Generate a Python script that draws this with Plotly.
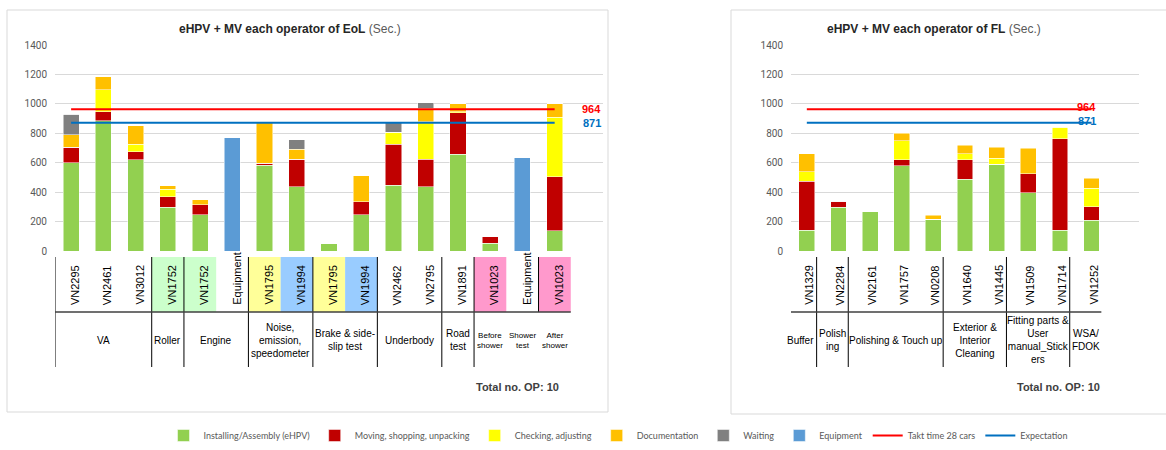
import plotly.graph_objects as go

# ---------------- data: EoL (left) ----------------
EOL_OPS = ["VN2295", "VN2461", "VN3012", "VN1752", "VN1752", "Equipment", "VN1795", "VN1994",
           "VN1795", "VN1994", "VN2462", "VN2795", "VN1891", "VN1023", "Equipment", "VN1023"]
EOL_INSTALL = [600, 885, 620, 298, 245, 0, 582, 437, 52, 245, 446, 437, 658, 52, 0, 137]
EOL_MOVING = [105, 60, 55, 70, 68, 0, 13, 185, 0, 90, 280, 185, 280, 48, 0, 368]
EOL_CHECK = [0, 152, 50, 50, 0, 0, 0, 0, 0, 0, 82, 255, 10, 0, 0, 405]
EOL_DOC = [85, 88, 125, 27, 35, 0, 275, 68, 0, 177, 0, 93, 52, 0, 0, 90]
EOL_WAIT = [140, 0, 0, 0, 0, 0, 0, 65, 0, 0, 65, 37, 0, 0, 0, 0]
EOL_EQUIP = [0, 0, 0, 0, 0, 768, 0, 0, 0, 0, 0, 0, 0, 0, 635, 0]
EOL_GROUPS = ["VA", "Roller", "Engine", "Noise,<br>emission,<br>speedometer", "Brake & side-<br>slip test",
              "Underbody", "Road<br>test", "Before<br>shower", "Shower<br>test", "After<br>shower"]
EOL_GROUP_FIRST = [0, 3, 4, 6, 8, 10, 12, 13, 14, 15]
EOL_GROUP_LAST = [2, 3, 5, 7, 9, 11, 12, 13, 14, 15]
EOL_TOTAL_OP = 10

# ---------------- data: FL (right) ----------------
FL_OPS = ["VN1329", "VN2284", "VN2161", "VN1757", "VN0208", "VN1640", "VN1445", "VN1509", "VN1714", "VN1252"]
FL_INSTALL = [141, 298, 271, 580, 217, 486, 589, 396, 141, 208]
FL_MOVING = [332, 40, 0, 41, 0, 135, 0, 130, 623, 94]
FL_CHECK = [67, 0, 0, 129, 0, 40, 40, 0, 76, 126]
FL_DOC = [121, 0, 0, 50, 27, 58, 77, 171, 0, 67]
FL_GROUPS = ["Buffer", "Polish<br>ing", "Polishing & Touch up", "Exterior &<br>Interior<br>Cleaning",
             "Fitting parts &<br>User<br>manual_Stick<br>ers", "WSA/<br>FDOK"]
FL_GROUP_FIRST = [0, 1, 2, 5, 7, 9]
FL_GROUP_LAST = [0, 1, 4, 6, 8, 9]
FL_TOTAL_OP = 10

TAKT = 964
EXPECT = 871

# ---------------- styles ----------------
C_INSTALL = "#92D050"
C_MOVING = "#C00000"
C_CHECK = "#FFFF00"
C_DOC = "#FFC000"
C_WAIT = "#808080"
C_EQUIP = "#5B9BD5"
C_TAKT = "#FF0000"
C_EXPECT = "#0070C0"
EOL_TICK_BG = [None, None, None, "#CCFFCC", "#CCFFCC", None, "#FFFF99", "#99CCFF", "#FFFF99", "#99CCFF",
               None, None, None, "#FF99CC", None, "#FF99CC"]

W, H = 1166, 450


def px(xp):
    return xp / W


def py(yp):
    return 1 - yp / H


fig = go.Figure()

series = [
    ("Installing/Assembly (eHPV)", C_INSTALL, EOL_INSTALL, FL_INSTALL),
    ("Moving, shopping, unpacking", C_MOVING, EOL_MOVING, FL_MOVING),
    ("Checking, adjusting", C_CHECK, EOL_CHECK, FL_CHECK),
    ("Documentation", C_DOC, EOL_DOC, FL_DOC),
    ("Waiting", C_WAIT, EOL_WAIT, None),
    ("Equipment", C_EQUIP, EOL_EQUIP, None),
]
xl = list(range(len(EOL_OPS)))
xr = list(range(len(FL_OPS)))
for name, col, left, right in series:
    fig.add_trace(go.Bar(x=xl, y=left, name=name, marker=dict(color=col, line=dict(color="white", width=0.5)),
                         legendgroup=name, xaxis="x", yaxis="y", width=0.5))
for name, col, left, right in series:
    if right is not None:
        fig.add_trace(go.Bar(x=xr, y=right, name=name, marker=dict(color=col, line=dict(color="white", width=0.5)),
                             legendgroup=name, showlegend=False, xaxis="x2", yaxis="y2", width=0.5))

fig.add_trace(go.Scatter(x=xl, y=[TAKT] * len(xl), mode="lines", name="Takt time 28 cars",
                         line=dict(color=C_TAKT, width=2), xaxis="x", yaxis="y", legendgroup="takt"))
fig.add_trace(go.Scatter(x=xl, y=[EXPECT] * len(xl), mode="lines", name="Expectation",
                         line=dict(color=C_EXPECT, width=2), xaxis="x", yaxis="y", legendgroup="exp"))
fig.add_trace(go.Scatter(x=xr, y=[TAKT] * len(xr), mode="lines", name="Takt time 28 cars", showlegend=False,
                         line=dict(color=C_TAKT, width=2), xaxis="x2", yaxis="y2", legendgroup="takt"))
fig.add_trace(go.Scatter(x=xr, y=[EXPECT] * len(xr), mode="lines", name="Expectation", showlegend=False,
                         line=dict(color=C_EXPECT, width=2), xaxis="x2", yaxis="y2", legendgroup="exp"))

ydom = [py(251), py(45)]
yax = dict(range=[0, 1400], dtick=200, gridcolor="#D9D9D9", gridwidth=1, zeroline=False, showline=False,
           tickfont=dict(family="Roboto, Arial", size=10, color="#595959"), ticklabelstandoff=7, domain=ydom,
           automargin=False)
xax = dict(showticklabels=False, showgrid=False, zeroline=False, showline=False, ticks="", automargin=False)

shapes = []
ann = []

# chart boxes
shapes.append(dict(type="rect", xref="paper", yref="paper", x0=px(7), x1=px(608), y0=py(412), y1=py(10),
                   line=dict(color="#D9D9D9", width=1), fillcolor="rgba(0,0,0,0)"))
shapes.append(dict(type="rect", xref="paper", yref="paper", x0=px(731), x1=px(1175), y0=py(414), y1=py(10),
                   line=dict(color="#D9D9D9", width=1), fillcolor="rgba(0,0,0,0)"))

TICK_TOP, ROW_SEP, TABLE_BOT = 257, 312, 367


def vline(xref, xv, y0, y1, color="black", width=1):
    shapes.append(dict(type="line", xref=xref, yref="paper", x0=xv, x1=xv, y0=py(y0), y1=py(y1),
                       line=dict(color=color, width=width)))


# ---- left table ----
for k, bg in enumerate(EOL_TICK_BG):
    if bg:
        shapes.append(dict(type="rect", xref="x", yref="paper", x0=k - 0.5, x1=k + 0.5, y0=py(ROW_SEP),
                           y1=py(TICK_TOP), fillcolor=bg, line=dict(width=0), layer="below"))
for k, op in enumerate(EOL_OPS):
    ann.append(dict(x=k, xref="x", y=py(307), yref="paper", yanchor="bottom", xanchor="center", text=op,
                    textangle=-90, showarrow=False, xshift=4,
                    font=dict(family="Liberation Sans, Arial", size=11, color="black")))
for g, (lab, a, b) in enumerate(zip(EOL_GROUPS, EOL_GROUP_FIRST, EOL_GROUP_LAST)):
    small = g >= 7
    ann.append(dict(x=(a + b) / 2, xref="x", y=py(340), yref="paper", yanchor="middle", xanchor="center",
                    text=lab, showarrow=False,
                    font=dict(family="Liberation Sans, Arial", size=8 if small else 10, color="black")))
for g, a in enumerate(EOL_GROUP_FIRST):
    if g <= 7:
        vline("x", a - 0.5, TICK_TOP, TABLE_BOT)
vline("x", 14.5, TICK_TOP, ROW_SEP)
shapes.append(dict(type="line", xref="x", yref="paper", x0=-0.5, x1=15.5, y0=py(ROW_SEP), y1=py(ROW_SEP),
                   line=dict(color="#404040", width=1.5)))

# ---- right table ----
OFF = -0.19
for k, op in enumerate(FL_OPS):
    ann.append(dict(x=k, xref="x2", y=py(307), yref="paper", yanchor="bottom", xanchor="center", text=op,
                    textangle=-90, showarrow=False, xshift=2,
                    font=dict(family="Liberation Sans, Arial", size=11, color="black")))
for lab, a, b in zip(FL_GROUPS, FL_GROUP_FIRST, FL_GROUP_LAST):
    ann.append(dict(x=(a + b) / 2 + OFF, xref="x2", y=py(340), yref="paper", yanchor="middle", xanchor="center",
                    text=lab, showarrow=False,
                    font=dict(family="Liberation Sans, Arial", size=10, color="black")))
for a in FL_GROUP_FIRST:
    vline("x2", a - 0.5 + OFF, TICK_TOP, TABLE_BOT)
shapes.append(dict(type="line", xref="x2", yref="paper", x0=-0.5 + OFF, x1=9.5 + OFF, y0=py(ROW_SEP),
                   y1=py(ROW_SEP), line=dict(color="#404040", width=1.5)))

# ---- titles ----
title_font = dict(family="Liberation Sans, Arial", size=12, color="#262626")
ann.append(dict(x=px(290), y=py(29), xref="paper", yref="paper", xanchor="center", yanchor="middle",
                showarrow=False, font=title_font,
                text="<b>eHPV + MV each operator of EoL</b> <span style='color:#595959'>(Sec.)</span>"))
ann.append(dict(x=px(934), y=py(29), xref="paper", yref="paper", xanchor="center", yanchor="middle",
                showarrow=False, font=title_font,
                text="<b>eHPV + MV each operator of FL</b> <span style='color:#595959'>(Sec.)</span>"))

# ---- total OP ----
ann.append(dict(x=px(561), y=py(387), xref="paper", yref="paper", xanchor="right", yanchor="middle",
                showarrow=False, text=f"<b>Total no. OP: {EOL_TOTAL_OP}</b>",
                font=dict(family="Liberation Sans, Arial", size=11, color="#404040")))
ann.append(dict(x=px(1102), y=py(387), xref="paper", yref="paper", xanchor="right", yanchor="middle",
                showarrow=False, text=f"<b>Total no. OP: {FL_TOTAL_OP}</b>",
                font=dict(family="Liberation Sans, Arial", size=11, color="#404040")))

# ---- line value labels ----
for val, col in [(TAKT, C_TAKT), (EXPECT, C_EXPECT)]:
    ann.append(dict(x=16, y=val, xref="x", yref="y", showarrow=False, xshift=5, text=f"<b>{val}</b>",
                    xanchor="center", yanchor="middle",
                    font=dict(family="Liberation Sans, Arial", size=11, color=col)))
    ann.append(dict(x=9, y=val, xref="x2", yref="y2", showarrow=False, xshift=-5, yshift=2, text=f"<b>{val}</b>",
                    xanchor="center", yanchor="middle",
                    font=dict(family="Liberation Sans, Arial", size=11, color=col)))

fig.update_layout(
    width=W, height=H, autosize=False,
    margin=dict(l=0, r=0, t=0, b=0, pad=0),
    paper_bgcolor="white", plot_bgcolor="white",
    barmode="stack", bargap=0.5,
    xaxis=dict(xax, domain=[px(55), px(603)], range=[-0.5, 16.5], anchor="y"),
    yaxis=dict(yax, anchor="x"),
    xaxis2=dict(xax, domain=[px(791), px(1139)], range=[-0.5, 10.5], anchor="y2"),
    yaxis2=dict(yax, anchor="x2"),
    shapes=shapes,
    annotations=ann,
    showlegend=True,
    legend=dict(orientation="h", x=px(618), xanchor="center", y=0, yanchor="bottom",
                traceorder="normal", font=dict(family="Lato, Arial", size=9, color="#595959"),
                itemwidth=30, bgcolor="rgba(0,0,0,0)"),
)

fig.write_html("out.html", config={"displayModeBar": False},
               post_script="document.body.style.margin='0px';document.body.style.overflow='hidden';")
